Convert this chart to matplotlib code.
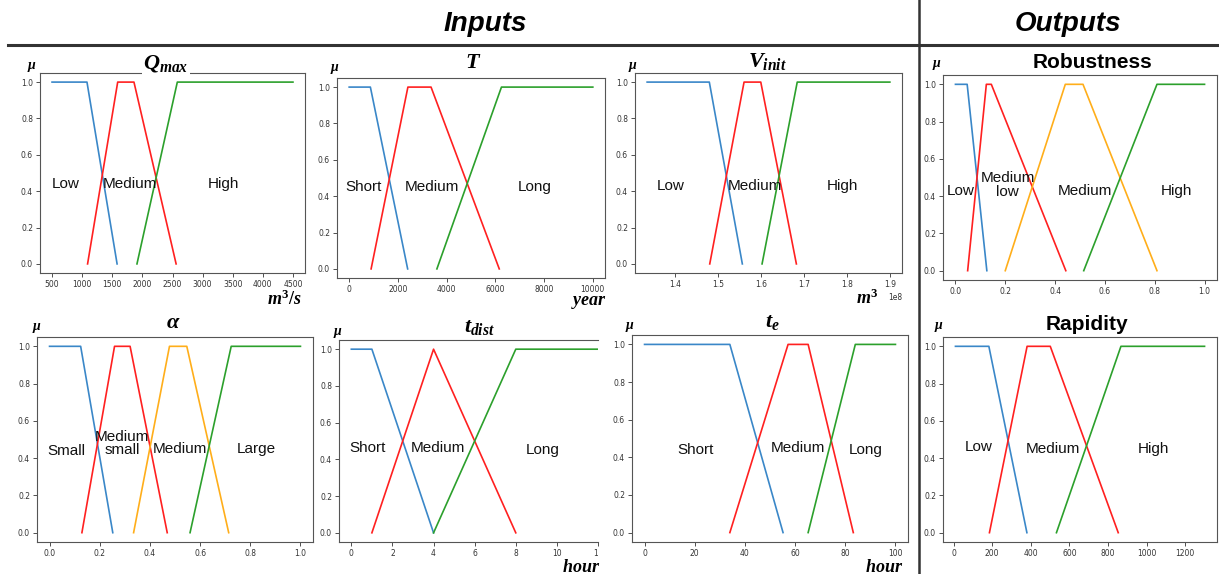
import matplotlib.pyplot as plt
from matplotlib.transforms import Bbox, TransformedBbox

plt.rcParams['mathtext.fontset'] = 'custom'
plt.rcParams['mathtext.it'] = 'Liberation Serif:italic:bold'
plt.rcParams['mathtext.rm'] = 'Liberation Serif:bold'
plt.rcParams['mathtext.bf'] = 'Liberation Serif:bold'

# membership functions: breakpoints (x) and degrees (mu) per term
qmax_names = ['Low', 'Medium', 'High']
qmax_x = [[500, 1080, 1580], [1090, 1590, 1860, 2560], [1910, 2580, 4500]]
qmax_mu = [[1, 1, 0], [0, 1, 1, 0], [0, 1, 1]]
qmax_lab = [(730, 0.44), (1800, 0.44), (3350, 0.44)]

t_names = ['Short', 'Medium', 'Long']
t_x = [[0, 870, 2400], [900, 2410, 3360, 6160], [3600, 6250, 10000]]
t_mu = [[1, 1, 0], [0, 1, 1, 0], [0, 1, 1]]
t_lab = [(600, 0.45), (3400, 0.45), (7600, 0.45)]

v_names = ['Low', 'Medium', 'High']
v_x = [[1.334e8, 1.479e8, 1.556e8], [1.480e8, 1.560e8, 1.599e8, 1.682e8],
       [1.602e8, 1.684e8, 1.900e8]]
v_mu = [[1, 1, 0], [0, 1, 1, 0], [0, 1, 1]]
v_lab = [(1.39e8, 0.43), (1.585e8, 0.43), (1.79e8, 0.43)]

rob_names = ['Low', 'Medium\nlow', 'Medium', 'High']
rob_x = [[0.0, 0.047, 0.126], [0.049, 0.124, 0.144, 0.443],
         [0.200, 0.441, 0.512, 0.809], [0.515, 0.809, 1.0]]
rob_mu = [[1, 1, 0], [0, 1, 1, 0], [0, 1, 1, 0], [0, 1, 1]]
rob_lab = [(0.02, 0.43), (0.21, 0.46), (0.52, 0.43), (0.887, 0.43)]

alpha_names = ['Small', 'Medium\nsmall', 'Medium', 'Large']
alpha_x = [[0.0, 0.124, 0.252], [0.129, 0.259, 0.321, 0.469],
           [0.335, 0.478, 0.547, 0.714], [0.560, 0.724, 1.0]]
alpha_mu = [[1, 1, 0], [0, 1, 1, 0], [0, 1, 1, 0], [0, 1, 1]]
alpha_lab = [(0.066, 0.44), (0.29, 0.48), (0.52, 0.45), (0.826, 0.45)]

tdist_names = ['Short', 'Medium', 'Long']
tdist_x = [[0, 1, 4], [1, 4, 8], [4, 8, 12]]
tdist_mu = [[1, 1, 0], [0, 1, 0], [0, 1, 1]]
tdist_lab = [(0.8, 0.46), (4.2, 0.46), (9.3, 0.45)]

te_names = ['Short', 'Medium', 'Long']
te_x = [[0, 34, 55.2], [34, 57.2, 65.2, 83.2], [65.2, 84, 100]]
te_mu = [[1, 1, 0], [0, 1, 1, 0], [0, 1, 1]]
te_lab = [(20.3, 0.44), (61, 0.45), (88.3, 0.44)]

rap_names = ['Low', 'Medium', 'High']
rap_x = [[10, 183, 380], [186, 381, 501, 853], [533, 867, 1300]]
rap_mu = [[1, 1, 0], [0, 1, 1, 0], [0, 1, 1]]
rap_lab = [(132, 0.46), (513, 0.45), (1034, 0.45)]

C3 = ['#3a87c8', '#ff2020', '#2ca02c']
C4 = ['#3a87c8', '#ff2020', '#ffae1a', '#2ca02c']

W, H = 1219, 574
fig = plt.figure(figsize=(W / 100, H / 100), dpi=100)


def ftext(x, y, s, **kw):
    return fig.text(x / W, 1 - y / H, s, **kw)


def panel(l, r, t, b, xs, mus, names, labs, xticks=None):
    ax = fig.add_axes([l / W, 1 - b / H, (r - l) / W, (b - t) / H])
    cols = C3 if len(xs) == 3 else C4
    for x, m, c in zip(xs, mus, cols):
        ax.plot(x, m, color=c, lw=1.2)
    for name, (lx, ly) in zip(names, labs):
        ax.text(lx, ly, name, ha='center', va='center', fontsize=11,
                family='Liberation Sans', color='#111', linespacing=0.95)
    ax.set_yticks([0, 0.2, 0.4, 0.6, 0.8, 1.0])
    if xticks is not None:
        ax.set_xticks(xticks)
    ax.tick_params(labelsize=5.5, length=3, width=0.6, pad=2, colors='#333')
    for sp in ax.spines.values():
        sp.set_linewidth(0.8)
        sp.set_color('#555')
    ax.xaxis.get_offset_text().set_fontsize(5.5)
    return ax


panel(40, 305, 73, 273, qmax_x, qmax_mu, qmax_names, qmax_lab,
      list(range(500, 4501, 500)))
panel(337, 605, 78, 278, t_x, t_mu, t_names, t_lab, list(range(0, 10001, 2000)))
panel(635, 902, 73, 273, v_x, v_mu, v_names, v_lab)
panel(943, 1217, 75, 280, rob_x, rob_mu, rob_names, rob_lab,
      [0, 0.2, 0.4, 0.6, 0.8, 1.0])
panel(37, 313, 337, 542, alpha_x, alpha_mu, alpha_names, alpha_lab,
      [0, 0.2, 0.4, 0.6, 0.8, 1.0])
ax6 = panel(339, 598, 340, 542, tdist_x, tdist_mu, tdist_names, tdist_lab,
            list(range(0, 13, 2)))
ax6.set_xlim(-0.6, 12.0)
ax6.spines['right'].set_visible(False)
clip = TransformedBbox(Bbox([[-0.3, -0.5], [1.0, 1.5]]), ax6.transAxes)
for lbl in ax6.get_xticklabels():
    lbl.set_clip_box(clip)
    lbl.set_clip_on(True)
panel(632, 908, 335, 542, te_x, te_mu, te_names, te_lab, list(range(0, 101, 20)))
panel(943, 1217, 337, 542, rap_x, rap_mu, rap_names, rap_lab,
      list(range(0, 1201, 200)))

# titles
wb = dict(facecolor='white', edgecolor='none', pad=1)
ftext(166, 63, r'$Q_{max}$', fontsize=16, ha='center', va='center', bbox=wb)
ftext(473, 62, r'$T$', fontsize=16, ha='center', va='center')
ftext(767, 62, r'$V_{init}$', fontsize=16, ha='center', va='center')
ftext(1092, 62, 'Robustness', fontsize=15, fontweight='bold',
      family='Liberation Sans', ha='center', va='center')
ftext(173, 322, r'$\alpha$', fontsize=16, ha='center', va='center')
ftext(480, 327, r'$t_{dist}$', fontsize=16, ha='center', va='center')
ftext(772, 322, r'$t_e$', fontsize=16, ha='center', va='center')
ftext(1087, 325, 'Rapidity', fontsize=15, fontweight='bold',
      family='Liberation Sans', ha='center', va='center')

# mu labels
for mx, my in [(32, 67), (335, 69), (633, 67), (937, 65),
               (37, 328), (338, 333), (630, 327), (939, 327)]:
    ftext(mx, my, r'$\mu$', fontsize=10, ha='center', va='center')

# unit labels
ftext(302, 299, r'$m^3/s$', fontsize=13, ha='right', va='center')
ftext(607, 302, r'$year$', fontsize=13, ha='right', va='center')
ftext(879, 298, r'$m^3$', fontsize=13, ha='right', va='center')
ftext(600, 567, r'$hour$', fontsize=13, ha='right', va='center')
ftext(903, 567, r'$hour$', fontsize=13, ha='right', va='center')

# headers and dividers
ftext(485, 24, 'Inputs', fontsize=20, fontweight='bold', fontstyle='italic',
      family='Liberation Sans', ha='center', va='center')
ftext(1068, 24, 'Outputs', fontsize=20, fontweight='bold', fontstyle='italic',
      family='Liberation Sans', ha='center', va='center')
fig.add_artist(plt.Line2D([8 / W, 1], [1 - 45 / H] * 2, color='#333', lw=2.2))
fig.add_artist(plt.Line2D([919 / W] * 2, [0, 1], color='#333', lw=1.8))

fig.savefig('out.png', dpi=100)
